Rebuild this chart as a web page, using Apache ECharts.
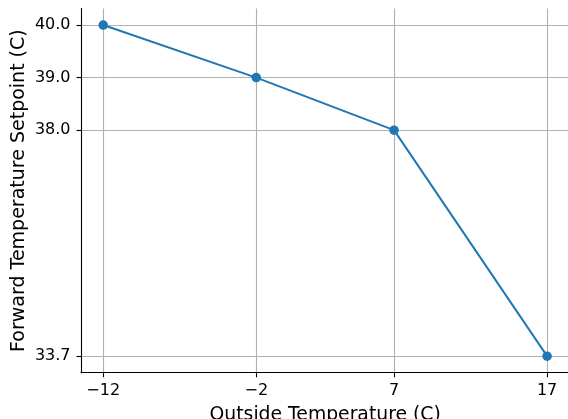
<!DOCTYPE html>
<html>
<head>
<meta charset="utf-8">
<script src="https://cdn.jsdelivr.net/npm/echarts@6/dist/echarts.min.js"></script>
<style>
  html, body { margin: 0; padding: 0; background: #fff; }
  #chart { width: 568px; height: 419px; }
</style>
</head>
<body>
<div id="chart"></div>
<script>
// Heating curve: forward temperature setpoint against outside temperature
const outsideTemps = [-12, -2, 7, 17];
const setpoints = [40.0, 39.0, 38.0, 33.7];
const xTicks = [-12, -2, 7, 17];
const yTicks = [33.7, 38.0, 39.0, 40.0];

const FONT = 'DejaVu Sans';
const minusSign = v => String(v).replace('-', '\u2212');

// 5% padding around the data range on both axes
const xSpan = Math.max(...outsideTemps) - Math.min(...outsideTemps);
const ySpan = Math.max(...setpoints) - Math.min(...setpoints);
const xMin = Math.min(...outsideTemps) - 0.05 * xSpan;
const xMax = Math.max(...outsideTemps) + 0.05 * xSpan;
const yMin = Math.min(...setpoints) - 0.05 * ySpan;
const yMax = Math.max(...setpoints) + 0.05 * ySpan;

const spine = { color: '#000', width: 1.1 };
const gridLine = { color: '#b0b0b0', width: 1.1 };

const chart = echarts.init(document.getElementById('chart'), null, { renderer: 'canvas' });
chart.setOption({
  animation: false,
  backgroundColor: '#ffffff',
  grid: {
    left: 81, top: 8.5, width: 488.3, bottom: 46.3,
    containLabel: false,
    outerBoundsMode: 'none'
  },
  xAxis: {
    type: 'value',
    min: xMin,
    max: xMax,
    name: 'Outside Temperature (C)',
    nameLocation: 'middle',
    nameGap: 33,
    nameMoveOverlap: false,
    nameTextStyle: { fontFamily: FONT, fontSize: 18.8, color: '#000' },
    axisLine: { show: true, onZero: false, lineStyle: spine },
    axisTick: { show: true, length: 4.5, customValues: xTicks, lineStyle: spine },
    axisLabel: {
      customValues: xTicks, margin: 10, fontFamily: FONT, fontSize: 16, color: '#000',
      formatter: v => minusSign(v)
    },
    splitLine: { show: true, lineStyle: gridLine }
  },
  yAxis: {
    type: 'value',
    min: yMin,
    max: yMax,
    name: 'Forward Temperature Setpoint (C)',
    nameLocation: 'middle',
    nameGap: 52,
    nameMoveOverlap: false,
    nameTextStyle: { fontFamily: FONT, fontSize: 19, color: '#000' },
    axisLine: { show: true, onZero: false, lineStyle: spine },
    axisTick: { show: true, length: 4.5, customValues: yTicks, lineStyle: spine },
    axisLabel: {
      customValues: yTicks, margin: 10.5, fontFamily: FONT, fontSize: 16, color: '#000',
      padding: [3, 0, 0, 0],
      formatter: v => v.toFixed(1)
    },
    splitLine: { show: true, lineStyle: gridLine }
  },
  series: [{
    type: 'line',
    data: outsideTemps.map((x, i) => [x, setpoints[i]]),
    color: '#1f77b4',
    lineStyle: { width: 2, color: '#1f77b4' },
    symbol: 'circle',
    symbolSize: 9.5,
    showAllSymbol: true,
    itemStyle: { color: '#1f77b4' },
    clip: false
  }]
});
</script>
</body>
</html>
